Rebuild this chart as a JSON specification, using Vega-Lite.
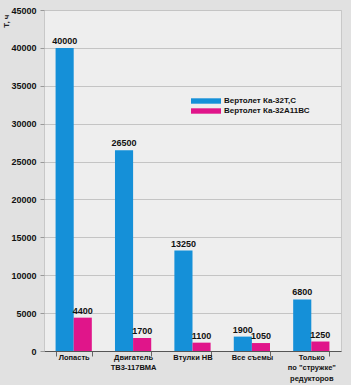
{
  "$schema": "https://vega.github.io/schema/vega-lite/v6.json",
  "width": 297,
  "height": 341,
  "autosize": {"type": "none"},
  "padding": {"left": 44, "top": 10, "right": 10, "bottom": 34},
  "background": "#e1e1e1",
  "config": {
    "view": {"fill": "#eeeeee", "stroke": "#c8c8c8"},
    "font": "Liberation Sans"
  },
  "data": {
    "values": [
      {"cat": "Лопасть", "series": "Вертолет Ка-32Т,С", "value": 40000},
      {"cat": "Лопасть", "series": "Вертолет Ка-32А11ВС", "value": 4400},
      {"cat": "Двигатель|ТВ3-117ВМА", "series": "Вертолет Ка-32Т,С", "value": 26500},
      {"cat": "Двигатель|ТВ3-117ВМА", "series": "Вертолет Ка-32А11ВС", "value": 1700},
      {"cat": "Втулки НВ", "series": "Вертолет Ка-32Т,С", "value": 13250},
      {"cat": "Втулки НВ", "series": "Вертолет Ка-32А11ВС", "value": 1100},
      {"cat": "Все съемы", "series": "Вертолет Ка-32Т,С", "value": 1900},
      {"cat": "Все съемы", "series": "Вертолет Ка-32А11ВС", "value": 1050},
      {"cat": "Только|по \"стружке\"|редукторов", "series": "Вертолет Ка-32Т,С", "value": 6800},
      {"cat": "Только|по \"стружке\"|редукторов", "series": "Вертолет Ка-32А11ВС", "value": 1250}
    ]
  },
  "encoding": {
    "x": {
      "field": "cat",
      "type": "nominal",
      "sort": null,
      "scale": {"paddingInner": 0.39, "paddingOuter": 0.195},
      "axis": {
        "title": null,
        "labelAngle": 0,
        "labelExpr": "split(datum.label, '|')",
        "labelFontSize": 7.5,
        "labelFontWeight": "bold",
        "labelColor": "#111111",
        "labelPadding": -3,
        "labelLineHeight": 10.5,
        "tickBand": "extent",
        "tickSize": 5,
        "tickColor": "#666666",
        "domainColor": "#555555"
      }
    },
    "xOffset": {"field": "series", "type": "nominal", "sort": ["Вертолет Ка-32Т,С", "Вертолет Ка-32А11ВС"]},
    "y": {
      "field": "value",
      "type": "quantitative",
      "scale": {"domain": [0, 45000], "nice": false},
      "axis": {
        "values": [0, 5000, 10000, 15000, 20000, 25000, 30000, 35000, 40000, 45000],
        "format": "d",
        "title": "Т, ч",
        "titleAngle": 270,
        "titleX": -38,
        "titleY": 4,
        "titleAlign": "right",
        "titleBaseline": "middle",
        "titleFontSize": 8,
        "titleFontWeight": "bold",
        "titleColor": "#222222",
        "labelFontSize": 9,
        "labelFontWeight": "bold",
        "labelColor": "#111111",
        "labelPadding": 4,
        "domain": false,
        "tickSize": 4,
        "tickColor": "#999999",
        "gridColor": "#c4c4c4",
        "gridWidth": 1
      }
    }
  },
  "layer": [
    {
      "mark": {"type": "bar"},
      "encoding": {
        "color": {
          "field": "series",
          "type": "nominal",
          "sort": ["Вертолет Ка-32Т,С", "Вертолет Ка-32А11ВС"],
          "scale": {"range": ["#1590d8", "#e0158a"]},
          "legend": {
            "title": null,
            "orient": "none",
            "legendX": 158,
            "legendY": 87,
            "symbolType": "M-5,-0.9L5,-0.9L5,0.9L-5,0.9Z",
            "symbolSize": 36,
            "symbolStrokeWidth": 0,
            "labelFontSize": 8,
            "labelFontWeight": "bold",
            "labelColor": "#111111",
            "rowPadding": 2,
            "labelOffset": 14
          }
        }
      }
    },
    {
      "mark": {"type": "text", "dy": -7, "fontSize": 9, "fontWeight": "bold", "color": "#111111"},
      "encoding": {"text": {"field": "value", "type": "quantitative", "format": "d"}}
    }
  ]
}
